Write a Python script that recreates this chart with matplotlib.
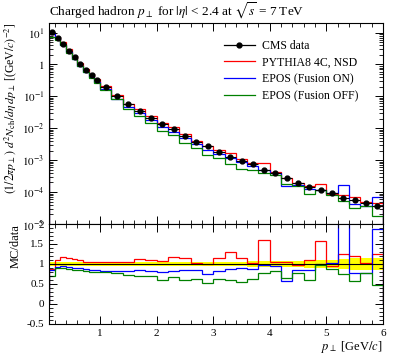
import numpy as np
import matplotlib
matplotlib.use("Agg")
import matplotlib.pyplot as plt
from matplotlib.lines import Line2D
from matplotlib.ticker import FixedLocator, LogLocator, MultipleLocator, FuncFormatter, NullFormatter

plt.rcParams["font.family"] = ["Liberation Serif", "DejaVu Serif"]
plt.rcParams["mathtext.fontset"] = "stix"

# bin edges in pT [GeV/c]
edges = [0.1, 0.2, 0.3, 0.4, 0.5, 0.6, 0.7, 0.8, 0.9, 1.0,
         1.2, 1.4, 1.6, 1.8, 2.0, 2.2, 2.4, 2.6, 2.8, 3.0,
         3.2, 3.4, 3.6, 3.8, 4.0, 4.2, 4.4, 4.6, 4.8, 5.0,
         5.2, 5.4, 5.6, 5.8, 6.0]

cms_data = [10.5, 6.7, 4.4, 2.67, 1.69, 1.04, 0.68, 0.47, 0.33,
            0.203, 0.104, 0.057, 0.0359, 0.0216, 0.0137, 0.0094, 0.0058, 0.0038, 0.0028,
            0.00186, 0.0013, 0.00097, 0.00077, 0.00051, 0.00041, 0.000273, 0.000199,
            0.000143, 0.000117, 9.2e-5, 6.7e-5, 5.7e-5, 4.7e-5, 3.7e-5]

# relative uncertainty of the data (yellow band)
cms_relerr = [0.04, 0.04, 0.04, 0.04, 0.04, 0.04, 0.04, 0.04, 0.04,
              0.045, 0.045, 0.045, 0.045, 0.05, 0.05, 0.05, 0.05, 0.05, 0.055,
              0.055, 0.06, 0.06, 0.065, 0.07, 0.075, 0.08, 0.085,
              0.09, 0.1, 0.11, 0.13, 0.14, 0.14, 0.15]

# MC / data ratios
ratio_pythia = [0.87, 1.11, 1.17, 1.16, 1.12, 1.09, 1.06, 1.04, 1.05,
                1.06, 1.06, 1.04, 1.12, 1.11, 1.08, 1.18, 1.14, 1.03, 1.00,
                1.14, 1.31, 1.14, 1.03, 1.60, 1.05, 1.05, 0.98,
                1.11, 1.58, 0.94, 1.25, 1.21, 1.02, 1.25]
ratio_epos_on = [0.86, 0.93, 0.94, 0.93, 0.91, 0.89, 0.87, 0.85, 0.84,
                 0.83, 0.82, 0.83, 0.84, 0.83, 0.81, 0.83, 0.85, 0.85, 0.74,
                 0.83, 0.87, 0.90, 0.88, 0.98, 0.95, 0.58, 0.84,
                 0.85, 1.01, 1.02, 2.5, 0.77, 0.77, 1.88]
ratio_epos_off = [0.71, 0.89, 0.90, 0.88, 0.86, 0.84, 0.83, 0.81, 0.80,
                  0.79, 0.77, 0.72, 0.70, 0.69, 0.61, 0.67, 0.61, 0.63, 0.52,
                  0.63, 0.59, 0.56, 0.63, 0.78, 0.83, 0.65, 0.78,
                  0.61, 0.97, 0.88, 0.76, 0.57, 0.78, 0.48]

labels = ["PYTHIA8 4C, NSD", "EPOS (Fusion ON)", "EPOS (Fusion OFF)"]
colors = ["#ff0000", "#0000ff", "#008000"]

edges = np.array(edges)
data = np.array(cms_data)
relerr = np.array(cms_relerr)
centers = 0.5 * (edges[1:] + edges[:-1])
halfw = 0.5 * (edges[1:] - edges[:-1])
ratios = [np.array(ratio_pythia), np.array(ratio_epos_on), np.array(ratio_epos_off)]

fig = plt.figure(figsize=(3.97, 3.58), dpi=100)
ax = fig.add_axes([0.1237, 0.3743, 0.841, 0.5615])
axr = fig.add_axes([0.1237, 0.095, 0.841, 0.2793], sharex=ax)

# main panel
for r, c in zip(ratios, colors):
    ax.stairs(data * r, edges, color=c, lw=0.9)
ax.errorbar(centers, data, xerr=halfw, yerr=data * relerr, fmt="o", ms=3.5,
            color="black", elinewidth=0.8, capsize=0, zorder=5)
ax.set_yscale("log")
ax.set_xlim(0.1, 6.0)
ax.set_ylim(1e-5, 20)
ax.yaxis.set_major_locator(LogLocator(base=10, numticks=20))
ax.yaxis.set_minor_locator(LogLocator(base=10, subs=np.arange(2, 10), numticks=20))


def logfmt(v, pos):
    e = int(round(np.log10(v)))
    if e == 0:
        return "$1$"
    return r"$10^{%d}$" % e


ax.yaxis.set_major_formatter(FuncFormatter(logfmt))
ax.yaxis.set_minor_formatter(NullFormatter())
ax.tick_params(labelbottom=False)
ax.set_title(r"Charged hadron $p_\perp$ for $|\eta|$ < 2.4 at $\sqrt{s}$ = 7 TeV",
             loc="left", fontsize=9.5, pad=5)
ax.set_ylabel(r"$(1/2\pi p_\perp)\ d^2N_{\rm ch}/d\eta\, dp_\perp$ [(GeV$/c)^{-2}$]",
              fontsize=8.5, loc="top", labelpad=2)

handles = [Line2D([], [], color="black", marker="o", ms=3.5, lw=0.9)]
handles += [Line2D([], [], color=c, lw=0.9) for c in colors]
ax.legend(handles, ["CMS data"] + labels, loc="upper left", bbox_to_anchor=(0.51, 0.94),
          frameon=False, fontsize=8.5, handlelength=2.6, labelspacing=0.4,
          handletextpad=0.6, borderaxespad=0)

# ratio panel
axr.stairs(1 + relerr, edges, baseline=1 - relerr, fill=True, color="#ffff00", lw=0)
axr.axhline(1.0, color="black", lw=0.8)
for r, c in zip(ratios, colors):
    axr.stairs(r, edges, color=c, lw=0.9)
axr.set_ylim(-0.5, 2.0)
axr.yaxis.set_major_locator(MultipleLocator(0.5))
axr.yaxis.set_minor_locator(MultipleLocator(0.1))
axr.yaxis.set_major_formatter(FuncFormatter(lambda v, p: "%g" % v))
axr.xaxis.set_major_locator(FixedLocator([1, 2, 3, 4, 5, 6]))
axr.xaxis.set_minor_locator(MultipleLocator(0.2))
axr.set_ylabel("MC/data", fontsize=9, loc="top", labelpad=4)
axr.set_xlabel(r"$p_\perp$ [GeV$/c$]", fontsize=9, loc="right", labelpad=1)

for a in (ax, axr):
    a.tick_params(which="both", direction="in", top=True, right=True, labelsize=8)
    a.tick_params(which="major", length=6, width=0.7)
    a.tick_params(which="minor", length=3, width=0.6)
    for s in a.spines.values():
        s.set_linewidth(0.8)

fig.savefig("out.png", dpi=100)
